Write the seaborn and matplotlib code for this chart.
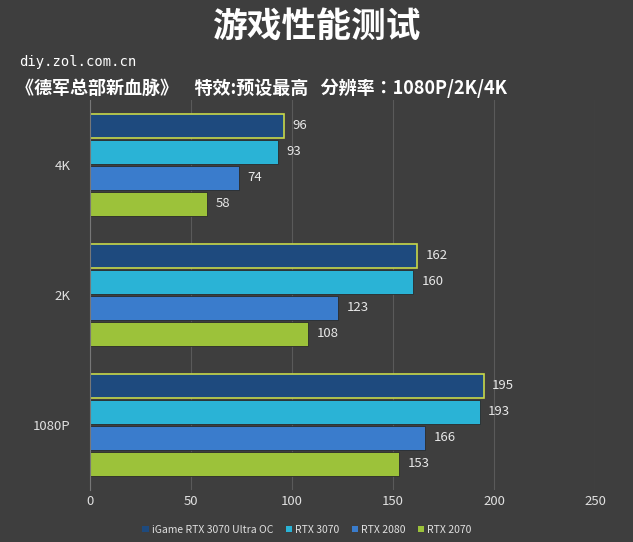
import matplotlib
matplotlib.use("Agg")
import matplotlib.pyplot as plt
import seaborn as sns
import pandas as pd

resolutions = ["4K", "2K", "1080P"]
cards = ["iGame RTX 3070 Ultra OC", "RTX 3070", "RTX 2080", "RTX 2070"]
igame = [96, 162, 195]
rtx3070 = [93, 160, 193]
rtx2080 = [74, 123, 166]
rtx2070 = [58, 108, 153]
xticks = [0, 50, 100, 150, 200, 250]

rows = []
for card, vals in zip(cards, [igame, rtx3070, rtx2080, rtx2070]):
    for r, v in zip(resolutions, vals):
        rows.append({"res": r, "card": card, "fps": v})
df = pd.DataFrame(rows)

colors = ["#1e4a7e", "#2ab3d6", "#3a7ccc", "#9cc23a"]
bg = "#3e3e3e"
cjk = ["Noto Sans CJK SC", "Noto Sans CJK JP", "Noto Sans CJK TC", "Noto Sans CJK KR", "DejaVu Sans"]
plt.rcParams["font.family"] = "sans-serif"
plt.rcParams["font.sans-serif"] = cjk

fig = plt.figure(figsize=(6.33, 5.42), dpi=100, facecolor=bg)
ax = fig.add_axes([0.142, 0.096, 0.798, 0.72], facecolor=bg)
sns.barplot(data=df, y="res", x="fps", hue="card", order=resolutions,
            hue_order=cards, palette=colors, orient="h", width=0.8,
            ax=ax, saturation=1, legend=True)
for i, cont in enumerate(ax.containers):
    for b in cont:
        y0, h = b.get_y(), b.get_height()
        b.set_y(y0 + h * 0.04)
        b.set_height(h * 0.92)
        b.set_edgecolor("#c8d84a" if i == 0 else "#2a2a2a")
        b.set_linewidth(1.2 if i == 0 else 0.6)
    ax.bar_label(cont, padding=6, color="#e8e8e8", fontsize=9.5)

ax.set_xlim(0, 250)
ax.set_xticks(xticks)
ax.xaxis.grid(True, color="#5a5a5a", lw=0.8)
ax.set_axisbelow(True)
for s in ax.spines.values():
    s.set_visible(False)
ax.spines["left"].set_visible(True)
ax.spines["left"].set_color("#777777")
ax.tick_params(colors="#e0e0e0", length=0, labelsize=9.5)
ax.tick_params(axis="y", pad=14)
ax.set_xlabel("")
ax.set_ylabel("")

leg = ax.legend(loc="upper center", bbox_to_anchor=(0.43, -0.065), ncol=4,
                frameon=False, fontsize=7.5, handlelength=0.6, handleheight=0.6,
                columnspacing=1.2, handletextpad=0.3, labelcolor="#e0e0e0")

fig.text(0.5, 0.95, "游戏性能测试", ha="center", va="center", color="white",
         fontsize=25, fontweight="bold")
fig.text(0.03, 0.885, "diy.zol.com.cn", ha="left", va="center", color="white",
         fontsize=10, family="DejaVu Sans Mono")
fig.text(0.025, 0.838, "《德军总部新血脉》    特效:预设最高   分辨率：1080P/2K/4K",
         ha="left", va="center", color="white", fontsize=13, fontweight="bold")

fig.savefig("out.png", dpi=100, facecolor=bg)
